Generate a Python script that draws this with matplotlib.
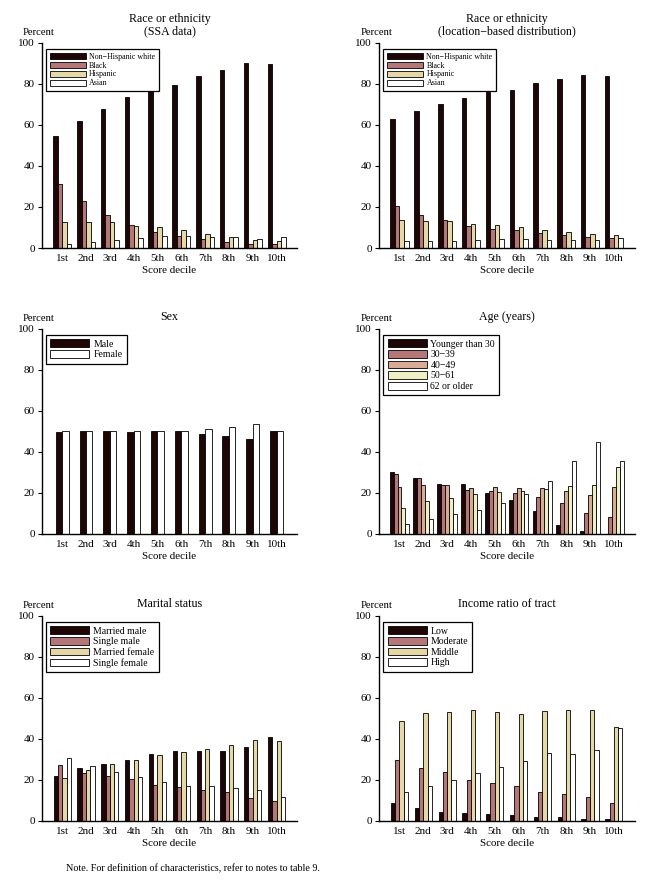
import matplotlib
matplotlib.use("Agg")
import numpy as np
import matplotlib.pyplot as plt

plt.rcParams['font.family'] = ['Liberation Serif', 'DejaVu Serif']

# Score deciles
deciles = ["1st", "2nd", "3rd", "4th", "5th", "6th", "7th", "8th", "9th", "10th"]

# Race or ethnicity (SSA data)
ssa_white = [54.6, 61.9, 67.7, 73.6, 76.5, 79.4, 83.8, 86.7, 90.1, 89.6]
ssa_black = [31.3, 23.0, 16.2, 11.3, 7.8, 6.0, 4.5, 2.9, 2.1, 2.1]
ssa_hispanic = [12.8, 12.8, 12.8, 10.9, 10.2, 8.9, 6.8, 5.3, 4.1, 3.6]
ssa_asian = [1.9, 2.9, 4.1, 5.0, 5.8, 5.8, 5.3, 5.3, 4.5, 5.3]

# Race or ethnicity (location-based distribution)
loc_white = [62.8, 67.0, 70.0, 73.3, 76.0, 77.0, 80.3, 82.2, 84.3, 83.7]
loc_black = [20.4, 16.0, 13.8, 10.7, 9.2, 8.8, 7.3, 6.3, 5.3, 4.9]
loc_hispanic = [13.8, 13.1, 13.1, 11.7, 11.2, 10.2, 8.8, 7.8, 6.8, 6.3]
loc_asian = [3.6, 3.6, 3.6, 4.1, 4.5, 4.5, 4.1, 4.1, 4.1, 4.9]

# Sex
male = [49.8, 50.0, 50.0, 49.8, 50.0, 50.0, 48.9, 47.9, 46.4, 50.0]
female = [50.2, 50.0, 50.0, 50.2, 50.0, 50.0, 51.1, 52.1, 53.6, 50.0]

# Age (years)
age_u30 = [30.4, 27.1, 24.4, 24.4, 20.1, 16.7, 11.4, 4.5, 1.6, 0.1]
age_30s = [29.4, 27.4, 23.9, 21.4, 20.9, 20.1, 18.2, 15.1, 10.2, 8.4]
age_40s = [23.1, 24.0, 23.9, 22.4, 23.1, 22.4, 22.4, 21.1, 19.0, 23.1]
age_50s = [12.7, 16.2, 17.7, 19.6, 20.6, 20.9, 21.9, 23.4, 24.0, 32.8]
age_62 = [4.9, 7.3, 9.9, 11.9, 15.1, 19.6, 25.8, 35.6, 44.8, 35.6]

# Marital status
married_male = [21.9, 25.8, 27.8, 29.7, 32.6, 34.1, 34.1, 34.1, 36.0, 40.9]
single_male = [27.3, 23.4, 21.9, 20.3, 17.4, 16.4, 15.1, 14.1, 11.0, 9.7]
married_female = [20.9, 24.8, 27.8, 29.7, 32.1, 33.6, 34.9, 37.0, 39.4, 39.0]
single_female = [30.7, 26.8, 23.9, 21.4, 19.0, 17.0, 17.0, 16.1, 15.1, 11.7]

# Income ratio of tract
inc_low = [8.8, 6.3, 4.4, 3.9, 3.4, 2.9, 1.9, 1.9, 1.0, 1.0]
inc_moderate = [29.7, 25.8, 23.9, 20.0, 18.5, 17.0, 14.1, 13.1, 11.7, 8.8]
inc_middle = [48.7, 52.6, 53.1, 54.1, 53.1, 52.1, 53.6, 54.1, 54.1, 45.8]
inc_high = [14.1, 17.0, 20.0, 23.4, 26.3, 29.2, 33.1, 32.6, 34.6, 45.3]

DARK = "#1e0606"
PINK = "#b47676"
TAN = "#e6d8a6"
SALMON = "#d8ac94"
PALE = "#f0eec4"
WHITE = "#ffffff"


def panel(rect, title, series, labels, colors, width, legend_size):
    ax = fig.add_axes(rect)
    x = np.arange(1, len(deciles) + 1)
    n = len(series)
    for i, (vals, lab, col) in enumerate(zip(series, labels, colors)):
        off = (i - (n - 1) / 2) * width
        ax.bar(x + off, vals, width, color=col, edgecolor="black",
               linewidth=0.6, label=lab)
    ax.set_xlim(0.14, 10.87)
    ax.set_ylim(0, 100)
    ax.set_yticks([0, 20, 40, 60, 80, 100])
    ax.set_xticks(x)
    ax.set_xticklabels(deciles)
    ax.tick_params(axis="x", length=0, pad=4, labelsize=8)
    ax.tick_params(axis="y", length=3, width=0.8, pad=2, labelsize=8)
    for s in ["top", "right"]:
        ax.spines[s].set_visible(False)
    for s in ["left", "bottom"]:
        ax.spines[s].set_linewidth(1.0)
    ax.set_xlabel("Score decile", fontsize=7.9, labelpad=2.5)
    ax.set_title(title, fontsize=8.6, pad=6, linespacing=1.1)
    ax.annotate("Percent", xy=(0, 1), xycoords="axes fraction",
                xytext=(-2, 7.7), textcoords="offset points",
                ha="center", va="center", fontsize=7.7)
    small = legend_size < 6.5
    ax.legend(loc="upper left", bbox_to_anchor=(0.017, 0.97),
              borderaxespad=0, fontsize=legend_size, frameon=True,
              fancybox=False, edgecolor="black", framealpha=1,
              handlelength=4.6 if small else 4.0,
              handleheight=0.75 if small else 0.85,
              labelspacing=0.12 if small else 0.14,
              handletextpad=0.4, borderpad=0.45)
    ax.get_legend().get_frame().set_linewidth(0.9)
    return ax


fig = plt.figure(figsize=(6.45, 8.82), dpi=100)

L1, L2, W = 0.0647, 0.5876, 0.3962
H = 0.2326

panel([L1, 0.7188, W, H], "Race or ethnicity\n(SSA data)",
      [ssa_white, ssa_black, ssa_hispanic, ssa_asian],
      ["Non\u2212Hispanic white", "Black", "Hispanic", "Asian"],
      [DARK, PINK, TAN, WHITE], 0.19, 5.7)

panel([L2, 0.7188, W, H], "Race or ethnicity\n(location\u2212based distribution)",
      [loc_white, loc_black, loc_hispanic, loc_asian],
      ["Non\u2212Hispanic white", "Black", "Hispanic", "Asian"],
      [DARK, PINK, TAN, WHITE], 0.19, 5.7)

panel([L1, 0.3946, W, H], "Sex",
      [male, female], ["Male", "Female"],
      [DARK, WHITE], 0.27, 7.0)

panel([L2, 0.3946, W, H], "Age (years)",
      [age_u30, age_30s, age_40s, age_50s, age_62],
      ["Younger than 30", "30\u221239", "40\u221249", "50\u221261", "62 or older"],
      [DARK, PINK, SALMON, PALE, WHITE], 0.165, 7.0)

panel([L1, 0.0692, W, H], "Marital status",
      [married_male, single_male, married_female, single_female],
      ["Married male", "Single male", "Married female", "Single female"],
      [DARK, PINK, TAN, WHITE], 0.18, 7.0)

panel([L2, 0.0692, W, H], "Income ratio of tract",
      [inc_low, inc_moderate, inc_middle, inc_high],
      ["Low", "Moderate", "Middle", "High"],
      [DARK, PINK, TAN, WHITE], 0.18, 7.0)

fig.text(193 / 645, 1 - 869 / 882,
         "Note. For definition of characteristics, refer to notes to table 9.",
         ha="center", va="center", fontsize=7.3)

fig.savefig("out.png", dpi=100)
